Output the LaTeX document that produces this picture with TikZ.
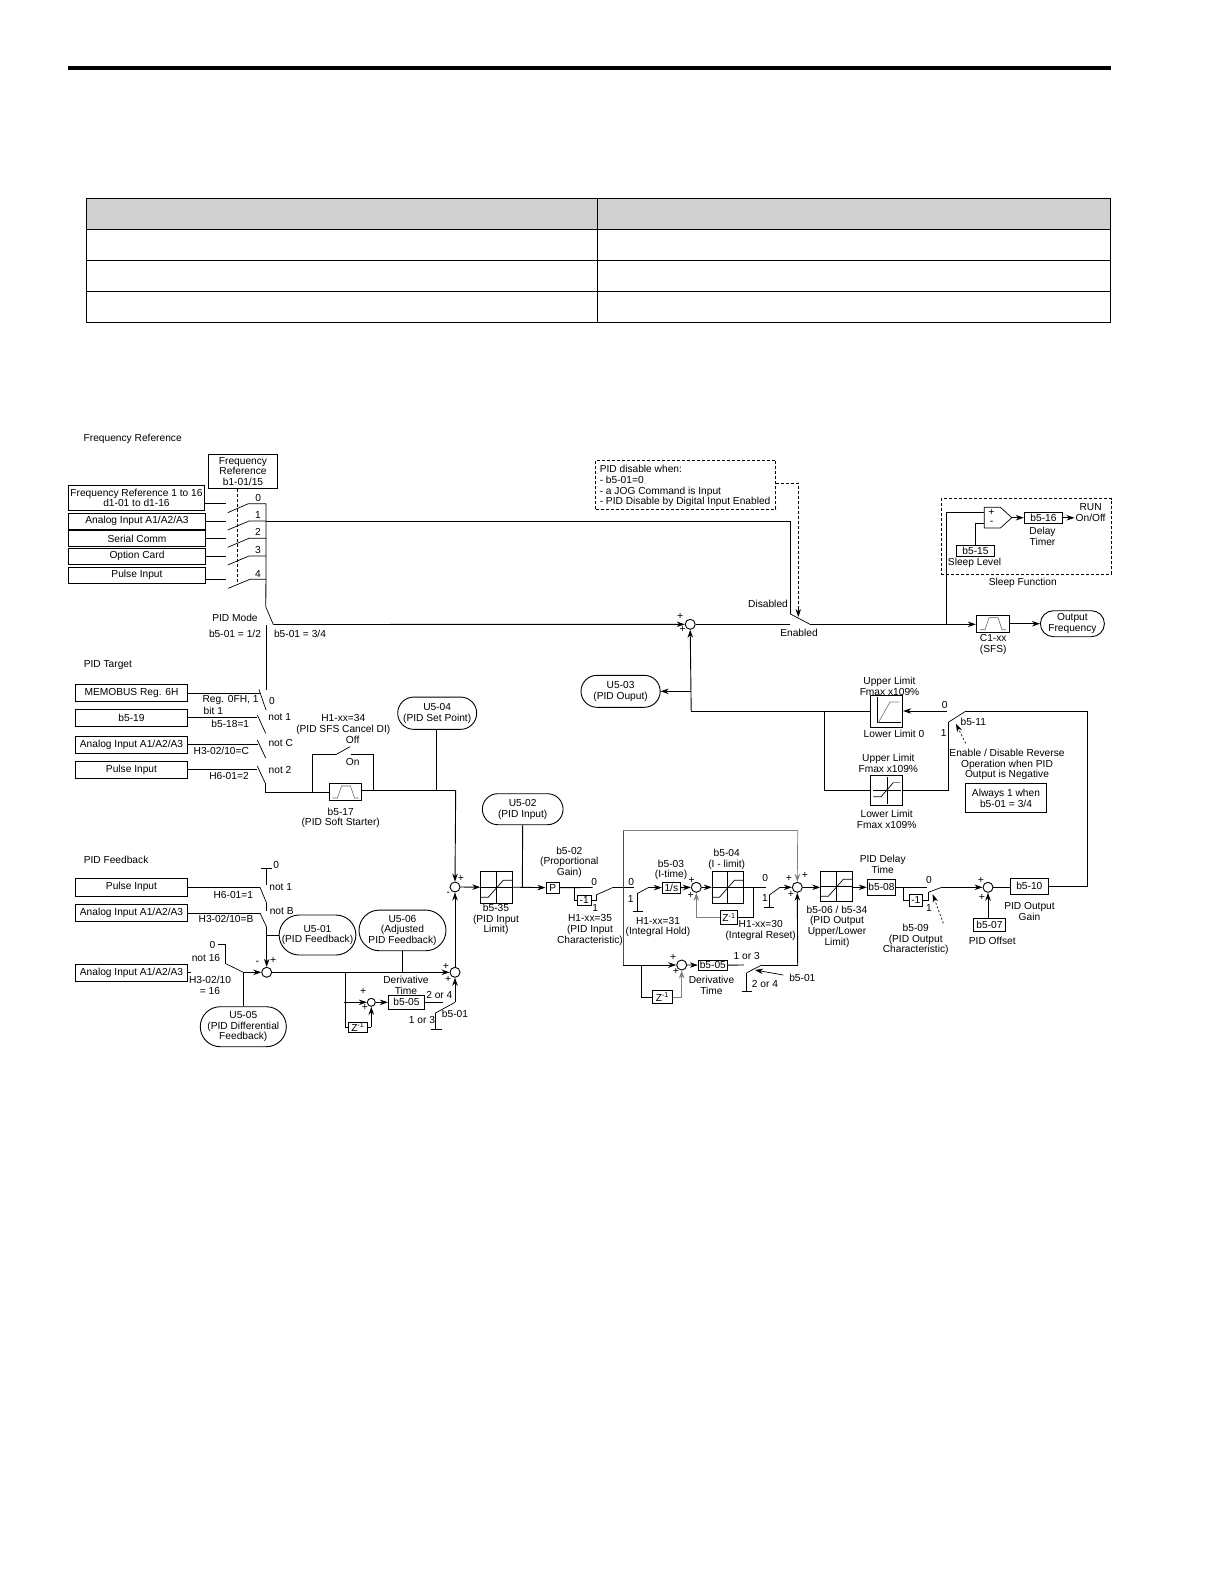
\documentclass[tikz,border=0pt]{standalone}
\usepackage{fontspec}
\setmainfont{Liberation Sans}
\usetikzlibrary{shapes,arrows.meta,positioning}

\tikzset{
  lbl/.style={inner sep=0pt,align=center,yshift=-1pt,font=\fontsize{10.2}{10.7}\selectfont},
  sgn/.style={inner sep=0pt,font=\fontsize{10.5}{10.5}\selectfont},
  blk/.style={draw,inner sep=0pt,align=center,font=\fontsize{10.2}{10.7}\selectfont},
  pill/.style={draw,rounded rectangle,inner sep=0pt,align=center,font=\fontsize{10.2}{10.7}\selectfont},
  sumnode/.style={draw,circle,inner sep=0pt,minimum size=10pt},
  arr/.style={-{Stealth[length=8pt,width=5.5pt]}},
  dashline/.style={dashed,dash pattern=on 3pt off 2pt},
  gline/.style={black!50,line width=0.7pt},
  blade/.style={line width=0.7pt},
}
\newcommand{\satmark}[1]{\draw[blade] (#1.north) -- (#1.south);
  \draw[blade] (#1.west) -- (#1.east);
  \draw[blade] ([shift={(-16,10)}]#1.center) -- ([shift={(-8.4,10)}]#1.center) -- ([shift={(6.6,-7)}]#1.center) -- ([shift={(16,-7)}]#1.center);}
\newcommand{\rampmark}[1]{\draw[black!60,line width=0.6pt] ([shift={(-13,6)}]#1.center) -- ([shift={(-8,6)}]#1.center) -- ([shift={(-4,-6)}]#1.center) -- ([shift={(5,-6)}]#1.center) -- ([shift={(9,6)}]#1.center) -- ([shift={(13,6)}]#1.center);}

\begin{document}
\begin{tikzpicture}[x=1pt,y=-1pt,line width=0.9pt]
\useasboundingbox (0,0) rectangle (1224,1584);
\fill[white] (0,0) rectangle (1224,1584);

% page rule and empty table
\fill (68,66) rectangle (1111,70);
\fill[black!18] (86.4,198.7) rectangle (1110.7,229.3);
\draw (86.4,198.7) rectangle (1110.7,322.3);
\draw (86.4,229.3) -- (1110.7,229.3);
\draw (86.4,260.3) -- (1110.7,260.3);
\draw (86.4,291.3) -- (1110.7,291.3);
\draw (597.5,198.7) -- (597.5,322.3);

% frequency reference
\node[lbl] (titleFreq) at (132.7,438.3) {Frequency Reference};
\node[blk,minimum width=69.4,minimum height=34.4] (selFreq) at (243,471.5) {Frequency\\Reference\\b1-01/15};
\node[blk,minimum width=136.4,minimum height=25.4] (inFreq) at (136.5,498) {Frequency Reference 1 to 16\\d1-01 to d1-16};
\node[blk,minimum width=137.4,minimum height=16] (inAnalog) at (137,521.3) {Analog Input A1/A2/A3};
\node[blk,minimum width=137.4,minimum height=16] (inSerial) at (137,538.7) {Serial Comm};
\node[blk,minimum width=137.4,minimum height=16] (inOption) at (137,556.3) {Option Card};
\node[blk,minimum width=137.4,minimum height=16] (inPulse) at (137,575.3) {Pulse Input};
\node[lbl] (numZero) at (258.3,497) {0};
\node[lbl] (numOne) at (258,514.3) {1};
\node[lbl] (numTwo) at (258,531.3) {2};
\node[lbl] (numThree) at (258,549.3) {3};
\node[lbl] (numFour) at (258,573) {4};
\coordinate (stubA) at (226,503.7);
\coordinate (stubB) at (226,521);
\coordinate (stubC) at (226,538.3);
\coordinate (stubD) at (226,556);
\coordinate (stubE) at (226,579.3);
\coordinate (busA) at (266,503.7);
\coordinate (busB) at (266,521);
\coordinate (busC) at (266,538.3);
\coordinate (busD) at (266,556);
\coordinate (busE) at (266,579.3);
\draw (inFreq.east |- stubA) -- (stubA);
\draw (inAnalog.east |- stubB) -- (stubB);
\draw (inSerial.east |- stubC) -- (stubC);
\draw (inOption.east |- stubD) -- (stubD);
\draw (inPulse.east |- stubE) -- (stubE);
\draw[blade] (227.7,512.7) -- (248.3,503.7) -- (busA);
\draw[blade] (227.7,530) -- (249,521) -- (busB);
\draw[blade] (227.7,547.3) -- (249,538.3) -- (busC);
\draw[blade] (227.7,565) -- (249,556) -- (busD);
\draw[blade] (228.3,588.3) -- (250,579.3) -- (busE);
\draw[dashline] (237.3,488.7) -- (237.3,583);
\coordinate (modeA) at (265.7,606.7);
\coordinate (modeB) at (273.3,624.5);
\coordinate (modeC) at (266.7,625);
\coordinate (modeD) at (266.7,690);
\draw (busA) -- (busE) -- (modeA);
\draw[blade] (modeA) -- (modeB);
\draw (modeC) -- (modeD);
\node[lbl] (modeTitle) at (235,617) {PID Mode};
\node[lbl] (modeLow) at (235,632.7) {b5-01 = 1/2};
\node[lbl] (modeHigh) at (300,632.7) {b5-01 = 3/4};

% main line, disable switch, output
\node[sumnode] (sumMain) at (690.2,624.3) {};
\node[sgn] (sgnMainA) at (680.2,616) {+};
\node[sgn] (sgnMainB) at (682.6,629.3) {+};
\draw[arr] (modeB) -- (sumMain.west);
\coordinate (disA) at (790.4,521.7);
\coordinate (disB) at (790.4,614);
\coordinate (disC) at (810,624.3);
\coordinate (disD) at (790.4,624.3);
\draw (busB) -- (busB -| disA) -- (disB);
\draw[blade] (disB) -- (disC);
\draw (sumMain.east) -- (disD);
\node[lbl] (lblDisabled) at (768,603) {Disabled};
\node[lbl] (lblEnabled) at (799,632.3) {Enabled};
\node[draw,dashline,inner sep=0pt,minimum width=180,minimum height=49] (disBox) at (685.5,484.8) {};
\node[lbl,align=left,anchor=north west] (disText) at (599.3,464) {PID disable when:\\- b5-01=0\\- a JOG Command is Input\\- PID Disable by Digital Input Enabled};
\coordinate (disE) at (798.3,483.3);
\draw[dashline] (disBox.east |- disE) -- (disE) -- (798.3,608);
\draw[arr] (798.3,608) -- (798.3,617);
\node[blk,minimum width=33.5,minimum height=16.7] (blkSfs) at (993,623.7) {};
\rampmark{blkSfs}
\node[lbl] (lblSfs) at (993.2,643.3) {C1-xx\\(SFS)};
\node[pill,minimum width=64,minimum height=26] (outFreq) at (1072.4,623.7) {Output\\Frequency};
\draw[arr] (disC) -- (blkSfs.west |- disC);
\draw[arr] (blkSfs.east) -- (outFreq.west);

% sleep function
\node[draw,dashline,inner sep=0pt,minimum width=170,minimum height=75.6] (sleepBox) at (1026.2,536.5) {};
\node[lbl] (lblSleep) at (1022.8,582) {Sleep Function};
\coordinate (sleepA) at (946.4,512.3);
\coordinate (sleepB) at (946.4,624.3);
\coordinate (cmpIn) at (984.3,512.3);
\coordinate (cmpOut) at (1011.8,517.7);
\coordinate (cmpLow) at (984.3,523.3);
\draw[fill=white,blade] (984.3,507.3) -- (1000.4,507.3) -- (cmpOut) -- (1000.4,528) -- (984.3,528) -- cycle;
\node[sgn] (sgnCmpA) at (991.5,512) {+};
\node[sgn] (sgnCmpB) at (991.5,522.7) {-};
\node[blk,minimum width=38.6,minimum height=11] (blkDelay) at (1043.5,517.8) {b5-16};
\node[blk,minimum width=38.2,minimum height=11.4] (blkLevel) at (975.5,551) {b5-15};
\node[lbl] (lblDelay) at (1042.5,535.2) {Delay\\Timer};
\node[lbl] (lblLevel) at (974.6,562.3) {Sleep Level};
\node[lbl] (lblRun) at (1090.6,511.3) {RUN\\On/Off};
\draw (sleepB) -- (sleepA) -- (cmpIn);
\draw (blkLevel.north) -- (blkLevel.north |- cmpLow) -- (cmpLow);
\draw[arr] (cmpOut) -- (blkDelay.west |- cmpOut);
\draw[arr] (blkDelay.east) -- (1074.5,517.8);

% PID target
\node[lbl,anchor=west] (titleTarget) at (83.3,664) {PID Target};
\node[blk,minimum width=112.4,minimum height=17.4] (tgtMemo) at (131.5,693) {MEMOBUS Reg. 6H};
\node[blk,minimum width=112.4,minimum height=17.4] (tgtB) at (131.5,718) {b5-19};
\node[blk,minimum width=112.4,minimum height=17.4] (tgtAnalog) at (131.5,744.7) {Analog Input A1/A2/A3};
\node[blk,minimum width=112.4,minimum height=17] (tgtPulse) at (131.5,769.8) {Pulse Input};
\coordinate (tgtStubA) at (260.7,693.3);
\coordinate (tgtStubB) at (257.3,717.3);
\coordinate (tgtStubC) at (258,744.3);
\coordinate (tgtStubD) at (257.3,769);
\draw (tgtMemo.east |- tgtStubA) -- (tgtStubA);
\draw (tgtB.east |- tgtStubB) -- (tgtStubB);
\draw (tgtAnalog.east |- tgtStubC) -- (tgtStubC);
\draw (tgtPulse.east |- tgtStubD) -- (tgtStubD);
\draw[blade] (259,689.5) -- (266,710);
\draw[blade] (257.3,715) -- (265.7,733.3);
\draw[blade] (257.3,740) -- (265.7,758);
\draw[blade] (257.3,766) -- (265.3,783.3);
\coordinate (softA) at (265.3,783.3);
\coordinate (softB) at (265.3,792);
\coordinate (softC) at (312.3,792);
\coordinate (softD) at (312.3,754.7);
\coordinate (softE) at (335.7,754.7);
\coordinate (softF) at (350,746.7);
\coordinate (softG) at (350.7,754.7);
\coordinate (softH) at (373.3,754.7);
\coordinate (softI) at (373.3,790.3);
\node[blk,minimum width=32.4,minimum height=17.4] (blkSoft) at (345.5,792) {};
\rampmark{blkSoft}
\draw (softA) -- (softB) -- (blkSoft.west);
\draw (softC) -- (softD) -- (softE);
\draw[blade] (softE) -- (softF);
\draw (softG) -- (softH) -- (softI);
\node[pill,minimum width=79,minimum height=32.3] (monSet) at (437.2,713.2) {U5-04\\(PID Set Point)};
\coordinate (setA) at (455.7,790.3);
\coordinate (setB) at (436.7,790.3);
\draw (blkSoft.east |- setA) -- (setA);
\draw (monSet.south -| setB) -- (setB);
\node[lbl] (lblReg) at (230.5,699.3) {Reg. 0FH, 1};
\node[lbl] (lblBit) at (213.3,709.8) {bit 1};
\node[lbl] (lblSrc) at (230.3,722.7) {b5-18=1};
\node[lbl] (lblAn) at (221.3,750) {H3-02/10=C};
\node[lbl] (lblPu) at (229,775) {H6-01=2};
\node[lbl] (lblNotZero) at (272,699.7) {0};
\node[lbl] (lblNotOne) at (279.7,715.7) {not 1};
\node[lbl] (lblNotC) at (280.7,742.3) {not C};
\node[lbl] (lblNotTwo) at (280,769.3) {not 2};
\node[lbl] (lblCancel) at (343.3,723.6) {H1-xx=34\\(PID SFS Cancel DI)};
\node[lbl] (lblOff) at (352.7,739.3) {Off};
\node[lbl] (lblOn) at (352.7,760.5) {On};
\node[lbl] (lblSoft) at (340.7,817) {b5-17\\(PID Soft Starter)};

% PID feedback
\node[lbl,anchor=west] (titleFb) at (83.3,859) {PID Feedback};
\node[blk,minimum width=112.4,minimum height=17.7] (fbPulse) at (131.5,887.2) {Pulse Input};
\node[blk,minimum width=112.4,minimum height=16.6] (fbAnalog) at (131.5,913) {Analog Input A1/A2/A3};
\node[blk,minimum width=112.4,minimum height=16.6] (fbDiff) at (131.5,973) {Analog Input A1/A2/A3};
\node[sumnode] (sumFb) at (266.7,972.3) {};
\node[sgn] (sgnFbA) at (257.3,962.7) {-};
\node[sgn] (sgnFbB) at (273.3,960) {+};
\coordinate (fbA) at (260,887.3);
\coordinate (fbB) at (266.7,903.3);
\coordinate (fbC) at (260,913);
\coordinate (fbD) at (266.7,927.3);
\coordinate (fbE) at (266.7,885);
\coordinate (fbF) at (266.7,868.3);
\draw (fbPulse.east |- fbA) -- (fbA);
\draw (fbAnalog.east |- fbC) -- (fbC);
\draw[blade] (fbA) -- (fbB);
\draw[blade] (fbC) -- (fbD);
\draw (fbB) -- (266.7,911);
\draw (fbE) -- (fbF);
\draw (261.3,868.3) -- (272,868.3);
\draw[arr] (fbD) -- (sumFb.north);
\node[lbl] (lblFbZero) at (276.3,864.3) {0};
\node[lbl] (lblFbOne) at (280.7,886) {not 1};
\node[lbl] (lblFbB) at (281.7,910) {not B};
\node[lbl] (lblFbH) at (233.3,893.7) {H6-01=1};
\node[lbl] (lblFbI) at (226,918.3) {H3-02/10=B};
\node[pill,minimum width=75,minimum height=40] (monFb) at (317.5,935) {U5-01\\(PID Feedback)};
\draw (266.7,935.7) -- (monFb.west |- 0,935.7);
\node[pill,minimum width=87,minimum height=40.7] (monAdj) at (402.5,930.4) {U5-06\\(Adjusted\\PID Feedback)};
\coordinate (diffA) at (225,944.3);
\coordinate (diffB) at (225,963.3);
\coordinate (diffC) at (243.3,972.3);
\coordinate (diffD) at (191,972.3);
\draw (218.3,944.3) -- (diffA) -- (diffB);
\draw[blade] (diffB) -- (diffC);
\draw (fbDiff.east |- diffD) -- (diffD);
\draw[arr] (diffC) -- (sumFb.west);
\node[lbl] (lblDiffZ) at (212.5,944.3) {0};
\node[lbl] (lblDiffN) at (206,957.3) {not 16};
\node[lbl] (lblDiffH) at (210,984) {H3-02/10\\= 16};
\node[pill,minimum width=80,minimum height=40] (monDiff) at (243.3,1026.7) {U5-05\\(PID Differential\\Feedback)};
\draw (diffC) -- (monDiff.north);

% adjusted feedback and derivative
\node[sumnode] (sumAdj) at (455,972.3) {};
\node[sgn] (sgnAdjA) at (446,966) {+};
\node[sgn] (sgnAdjB) at (448.3,979.3) {+};
\draw[arr] (sumFb.east) -- (sumAdj.west);
\draw (monAdj.south) -- (monAdj.south |- sumAdj.west);
\node[sumnode,minimum size=8pt] (sumDa) at (371.3,1002.3) {};
\node[sgn] (sgnDaA) at (363.3,991) {+};
\node[sgn] (sgnDaB) at (365,1007.3) {+};
\node[blk,minimum width=36.4,minimum height=14] (blkDa) at (406.5,1002.3) {b5-05};
\node[blk,minimum width=19,minimum height=10.3] (zDa) at (357.8,1027.2) {Z\textsuperscript{-1}};
\coordinate (daA) at (345.7,972.3);
\coordinate (daB) at (344,1002.3);
\coordinate (daC) at (443.3,1002.3);
\coordinate (daD) at (435,1013.3);
\coordinate (daE) at (455,1002.3);
\coordinate (daF) at (435,1029.3);
\draw (daA) -- (daA |- zDa.west) -- (zDa.west);
\draw[arr] (daB) -- (sumDa.west);
\draw[arr] (sumDa.east) -- (blkDa.west);
\draw (blkDa.east) -- (daC);
\draw[blade] (daD) -- (daE);
\draw[arr] (daE) -- (sumAdj.south);
\draw (daD) -- (daF);
\draw (431,1029.3) -- (441.7,1029.3);
\draw[arr] (sumDa.south |- zDa.east) -- (sumDa.south);
\draw (zDa.east) -- (sumDa.south |- zDa.east);
\node[lbl] (lblDaDer) at (406,984.6) {Derivative\\Time};
\node[lbl] (lblDaTwo) at (439.3,993.7) {2 or 4};
\node[lbl] (lblDaOne) at (422,1019) {1 or 3};
\node[lbl] (lblDaSel) at (455,1013.3) {b5-01};

% PID input and proportional path
\node[sumnode] (sumIn) at (455,887) {};
\node[sgn] (sgnInA) at (461,878.3) {+};
\node[sgn] (sgnInB) at (448.3,894.3) {-};
\draw[arr] (setA) -- (sumIn.north);
\draw[arr] (sumAdj.north) -- (sumIn.south);
\node[blk,minimum width=32,minimum height=31.7] (blkInLim) at (496.7,887.2) {};
\satmark{blkInLim}
\node[lbl] (lblInLim) at (496,918.5) {b5-35\\(PID Input\\Limit)};
\draw[arr] (sumIn.east) -- (blkInLim.west);
\node[pill,minimum width=80.7,minimum height=31] (monIn) at (522.7,809.2) {U5-02\\(PID Input)};
\coordinate (inA) at (522.3,887.3);
\draw (monIn.south) -- (inA);
\node[blk,minimum width=13.7,minimum height=11.3] (blkP) at (552.8,887.6) {P};
\draw[arr] (blkInLim.east) -- (blkP.west);
\node[blk,minimum width=13.7,minimum height=10.7] (blkNegIn) at (584.2,900.3) {-1};
\coordinate (negA) at (592.7,887.5);
\coordinate (negB) at (574.3,887.5);
\coordinate (negC) at (596,895);
\coordinate (negD) at (613.3,887.3);
\coordinate (negE) at (596,900.3);
\coordinate (negF) at (623.3,887.3);
\draw (blkP.east) -- (negA);
\draw (negB) -- (negB |- blkNegIn.west) -- (blkNegIn.west);
\draw (blkNegIn.east) -- (negE) -- (negC);
\draw[blade] (negC) -- (negD);
\draw (negD) -- (634,887.3);
\node[lbl] (lblPrZ) at (594.3,880.7) {0};
\node[lbl] (lblPrO) at (595.3,906.7) {1};
\node[lbl] (lblPrG) at (569.3,861.3) {b5-02\\(Proportional\\Gain)};
\node[lbl] (lblPrH) at (590,929) {H1-xx=35\\(PID Input\\Characteristic)};

% integral and derivative loop
\coordinate (intTL) at (623.3,830);
\coordinate (intTR) at (797.7,830);
\coordinate (intBL) at (623.3,965);
\draw[black!70,line width=0.7pt] (intBL) -- (intTL);
\draw[gline] (intTL) -- (intTR);
\node[sumnode] (sumOut) at (797.3,887.3) {};
\node[sgn] (sgnOutA) at (789,878.3) {+};
\node[sgn] (sgnOutB) at (805,875.7) {+};
\node[sgn] (sgnOutC) at (791,894) {+};
\draw[gline,arr] (intTR) -- (sumOut.north);
\node[blk,minimum width=18,minimum height=11.3] (blkTime) at (671.3,887.6) {1/s};
\coordinate (hldA) at (637.7,893.3);
\coordinate (hldB) at (648.3,887.6);
\coordinate (hldC) at (637.7,911.7);
\draw[blade] (hldA) -- (hldB);
\draw[arr] (hldB) -- (blkTime.west);
\draw (hldA) -- (hldC);
\draw (632.7,911.7) -- (642.7,911.7);
\node[lbl] (lblIntZ) at (631.3,880.7) {0};
\node[lbl] (lblIntO) at (630.7,898) {1};
\node[lbl] (lblIntH) at (658,926) {H1-xx=31\\(Integral Hold)};
\node[lbl] (lblIntT) at (671,868.8) {b5-03\\(I-time)};
\node[sumnode] (sumPid) at (696.3,887.3) {};
\node[sgn] (sgnPidA) at (691.7,880) {+};
\node[sgn] (sgnPidB) at (690.7,895) {+};
\draw[arr] (blkTime.east) -- (sumPid.west);
\node[blk,minimum width=31,minimum height=32] (blkILim) at (727.8,887.3) {};
\satmark{blkILim}
\draw[arr] (sumPid.east) -- (blkILim.west);
\node[lbl] (lblILim) at (726.7,858) {b5-04\\(I - limit)};
\node[blk,minimum width=16.6,minimum height=13.6] (zInt) at (729,917.5) {Z\textsuperscript{-1}};
\coordinate (rstA) at (753.3,887.3);
\coordinate (rstB) at (766,887.3);
\coordinate (rstC) at (769.3,895);
\coordinate (rstD) at (780,887.3);
\coordinate (rstE) at (769.3,907.3);
\draw (blkILim.east) -- (rstB);
\draw (rstA) -- (rstA |- zInt.east) -- (zInt.east);
\draw[gline] (zInt.west) -- (sumPid.south |- zInt.west);
\draw[gline,arr] (sumPid.south |- zInt.west) -- (sumPid.south);
\draw[blade] (rstC) -- (rstD);
\draw[arr] (rstD) -- (sumOut.west);
\draw (rstC) -- (rstE);
\draw (764.3,907.3) -- (774.3,907.3);
\node[lbl] (lblRstZ) at (765.3,877.3) {0};
\node[lbl] (lblRstO) at (765,896.7) {1};
\node[lbl] (lblRstH) at (760.7,929.5) {H1-xx=30\\(Integral Reset)};
\node[sumnode] (sumDi) at (681.7,965) {};
\node[sgn] (sgnDiA) at (673.3,957.3) {+};
\node[sgn] (sgnDiB) at (676,971.7) {+};
\draw[arr] (intBL) -- (sumDi.west);
\node[blk,minimum width=29,minimum height=10.3] (blkDi) at (712.8,965.1) {b5-05};
\draw[arr] (sumDi.east) -- (blkDi.west);
\node[blk,minimum width=20,minimum height=12.6] (zDi) at (662.3,997) {Z\textsuperscript{-1}};
\coordinate (diA) at (641,965);
\coordinate (diB) at (744,965);
\coordinate (diC) at (746.7,972.7);
\coordinate (diD) at (761.7,965);
\coordinate (diE) at (746.7,991);
\coordinate (diF) at (797.7,965);
\draw (diA) -- (diA |- zDi.west) -- (zDi.west);
\draw[gline] (zDi.east) -- (sumDi.south |- zDi.east);
\draw[gline,arr] (sumDi.south |- zDi.east) -- (sumDi.south);
\draw (blkDi.east) -- (diB);
\draw[blade] (diC) -- (diD);
\draw (diD) -- (diF);
\draw[arr] (diF) -- (sumOut.south);
\draw (diC) -- (diE);
\draw (741.7,991) -- (752,991);
\node[lbl] (lblDiOne) at (746.7,955) {1 or 3};
\node[lbl] (lblDiTwo) at (765,982.7) {2 or 4};
\node[lbl] (lblDiSel) at (802.3,977.3) {b5-01};
\node[lbl] (lblDiDer) at (711.5,984.6) {Derivative\\Time};
\draw[arr,blade] (783.3,975) -- (755,970);

% output limit, delay and gain
\node[blk,minimum width=32,minimum height=30] (blkOutLim) at (836.7,886.3) {};
\satmark{blkOutLim}
\draw[arr] (sumOut.east) -- (blkOutLim.west |- sumOut.east);
\node[lbl] (lblOutLim) at (837,925.5) {b5-06 / b5-34\\(PID Output\\Upper/Lower\\Limit)};
\node[blk,minimum width=28.4,minimum height=16] (blkOutDl) at (881.5,887.3) {b5-08};
\draw[arr] (blkOutLim.east |- blkOutDl.west) -- (blkOutDl.west);
\node[lbl] (lblOutDl) at (882.7,863.2) {PID Delay\\Time};
\node[blk,minimum width=13,minimum height=12] (blkNegOut) at (915.8,900.3) {-1};
\coordinate (outA) at (926.7,887.3);
\coordinate (outB) at (903.3,887.3);
\coordinate (outC) at (928.3,892.3);
\coordinate (outD) at (941.7,887.3);
\coordinate (outE) at (928.3,900.3);
\draw (blkOutDl.east) -- (outA);
\draw (outB) -- (outB |- blkNegOut.west) -- (blkNegOut.west);
\draw (blkNegOut.east) -- (outE) -- (outC);
\draw[blade] (outC) -- (outD);
\node[lbl] (lblOutZ) at (929,879) {0};
\node[lbl] (lblOutO) at (929,906.7) {1};
\node[lbl] (lblOutCh) at (915.7,938.5) {b5-09\\(PID Output\\Characteristic)};
\draw[arr,blade,dashed,dash pattern=on 2pt off 2pt] (943.3,923.3) -- (932.7,894.3);
\node[sumnode] (sumOff) at (988,887.3) {};
\node[sgn] (sgnOffA) at (981,880) {+};
\node[sgn] (sgnOffB) at (982,897) {+};
\draw[arr] (outD) -- (sumOff.west);
\node[blk,minimum width=32.4,minimum height=12.7] (blkOffs) at (989.5,924.7) {b5-07};
\draw[arr] (sumOff.south |- blkOffs.north) -- (sumOff.south);
\node[lbl] (lblOffs) at (992.3,940) {PID Offset};
\node[blk,minimum width=38,minimum height=16] (blkGain) at (1029.3,886.3) {b5-10};
\draw (sumOff.east) -- (blkGain.west |- sumOff.east);
\node[lbl] (lblGain) at (1029.5,910.5) {PID Output\\Gain};

% output clamps and reverse switch
\node[blk,minimum width=32,minimum height=31.6] (blkUni) at (886.7,711.5) {};
\draw[blade] (877,696.7) -- (877,722.7) -- (900.7,722.7);
\draw[gline] (878.3,722.7) -- (890,702) -- (899.3,702);
\node[blk,minimum width=32,minimum height=30] (blkBi) at (886.7,790.7) {};
\draw[blade] (887.3,777) -- (887.3,804);
\draw[blade] (873.3,790.3) -- (900.7,790.3);
\draw[blade] (873.3,796.7) -- (881,796.7) -- (893.3,782.7);
\draw[gline] (893.3,782.7) -- (900,782.7);
\node[lbl] (lblUniU) at (889.5,685) {Upper Limit\\Fmax x109\%};
\node[lbl] (lblUniL) at (894,733.3) {Lower Limit 0};
\node[lbl] (lblBiU) at (888.3,762.3) {Upper Limit\\Fmax x109\%};
\node[lbl] (lblBiL) at (886.7,818) {Lower Limit\\Fmax x109\%};
\coordinate (revA) at (946.7,711);
\coordinate (revB) at (948.3,722.3);
\coordinate (revC) at (966,711);
\coordinate (revD) at (1087.3,711);
\coordinate (revE) at (1087.3,886.3);
\coordinate (revF) at (948.3,790.3);
\coordinate (clampA) at (824.3,711);
\coordinate (clampB) at (824.3,790.3);
\coordinate (clampC) at (691.2,711);
\draw[arr] (revA) -- (blkUni.east |- revA);
\draw[blade] (revB) -- (revC);
\draw (revC) -- (revD) -- (revE) -- (blkGain.east |- revE);
\draw (revB) -- (revF) -- (blkBi.east |- revF);
\draw (blkBi.west |- clampB) -- (clampB) -- (clampA);
\draw (blkUni.west |- clampA) -- (clampC);
\draw[arr] (clampC) -- (sumMain.south);
\node[pill,minimum width=79.2,minimum height=32] (monOut) at (620.6,691.3) {U5-03\\(PID Ouput)};
\draw[arr] (clampC |- monOut.east) -- (monOut.east);
\node[lbl] (lblRevZ) at (944.7,704) {0};
\node[lbl] (lblRevO) at (943.7,731.7) {1};
\node[lbl] (lblRevS) at (973.3,720.7) {b5-11};
\draw[arr,blade,dashed,dash pattern=on 2pt off 2pt] (965.7,743.3) -- (956,724);
\node[lbl] (lblRevT) at (1007,763.5) {Enable / Disable Reverse\\Operation when PID\\Output is Negative};
\node[blk,minimum width=81.4,minimum height=28.6] (boxAlways) at (1006,798) {Always 1 when\\ b5-01 = 3/4};
\end{tikzpicture}
\end{document}
